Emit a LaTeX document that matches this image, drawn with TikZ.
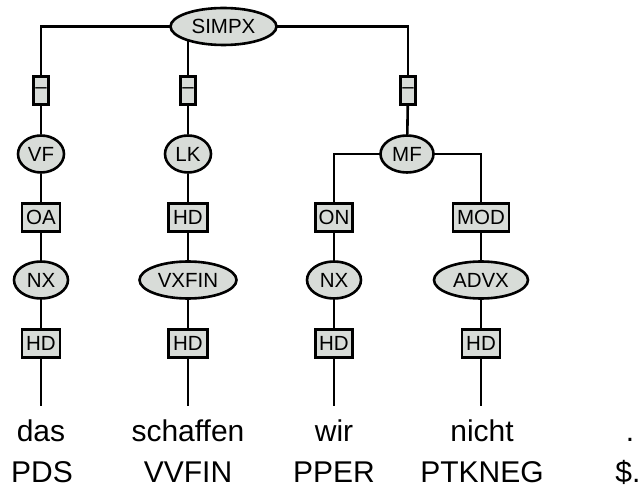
\documentclass[tikz,border=0pt]{standalone}
\usepackage{fontspec}
\setmainfont{Liberation Sans}
\usetikzlibrary{shapes.geometric,backgrounds}
\definecolor{nodegrey}{RGB}{216,220,216}
\begin{document}
\begin{tikzpicture}[x=1pt,y=-1pt,
  cat/.style={ellipse,draw,fill=nodegrey,line width=2.6pt,inner sep=0pt,minimum height=37pt,font=\fontsize{20.5}{22}\selectfont},
  lab/.style={rectangle,draw,fill=nodegrey,line width=2.6pt,inner sep=0pt,minimum height=28pt,font=\fontsize{20.5}{22}\selectfont},
  edge/.style={line width=2.6pt},
  word/.style={anchor=base,inner sep=0pt,font=\fontsize{30}{34}\selectfont}]
\useasboundingbox (0,0) rectangle (640,489);
% categories
\node[cat,minimum width=106pt] (simpx) at (223.5,26.5) {SIMPX};
\node[lab,minimum width=15pt] (d1) at (41,90.5) {–};
\node[lab,minimum width=15pt] (d2) at (188,90.5) {–};
\node[lab,minimum width=15pt] (d3) at (408,90.5) {–};
\node[cat,minimum width=46pt] (vf) at (41,154) {VF};
\node[cat,minimum width=46pt] (lk) at (188,154) {LK};
\node[cat,minimum width=53pt] (mf) at (407,154) {MF};
\node[lab,minimum width=38pt] (oa) at (41,217.5) {OA};
\node[lab,minimum width=39pt] (hd1) at (188,217.5) {HD};
\node[lab,minimum width=37pt] (on) at (334,217.5) {ON};
\node[lab,minimum width=56pt] (mod) at (481,217.5) {MOD};
\node[cat,minimum width=54pt] (nx1) at (41,280) {NX};
\node[cat,minimum width=97pt] (vxfin) at (188,280) {VXFIN};
\node[cat,minimum width=54pt] (nx2) at (334,280) {NX};
\node[cat,minimum width=94pt] (advx) at (481,280) {ADVX};
\node[lab,minimum width=38pt] (hd2) at (41,343.5) {HD};
\node[lab,minimum width=39pt] (hd3) at (188,343.5) {HD};
\node[lab,minimum width=37pt] (hd4) at (334,343.5) {HD};
\node[lab,minimum width=38pt] (hd5) at (481,343.5) {HD};
% leaves
\coordinate (e1) at (41,406);
\coordinate (e2) at (188,406);
\coordinate (e3) at (334,406);
\coordinate (e4) at (481,406);
\node[word] (w1) at (41,441.5) {das};
\node[word] (w2) at (188,441.5) {schaffen};
\node[word] (w3) at (334,441.5) {wir};
\node[word] (w4) at (482,441.5) {nicht};
\node[word] (w5) at (630,441.5) {.};
\node[word] (t1) at (42,482) {PDS};
\node[word] (t2) at (188,482) {VVFIN};
\node[word] (t3) at (334,482) {PPER};
\node[word] (t4) at (482,482) {PTKNEG};
\node[word] (t5) at (628,482) {\$.};
\begin{pgfonlayer}{background}
\draw[edge] (simpx.center) -| (d1.center);
\draw[edge] (simpx.center) -| (d3.center);
\draw[edge] (d2.center |- simpx.center) -- (d2.center);
\draw[edge] (d1) -- (vf) -- (oa) -- (nx1) -- (hd2) -- (e1);
\draw[edge] (d2) -- (lk) -- (hd1) -- (vxfin) -- (hd3) -- (e2);
\draw[edge] (d3) -- (mf);
\draw[edge] (mf.center) -| (on.center);
\draw[edge] (mf.center) -| (mod.center);
\draw[edge] (on) -- (nx2) -- (hd4) -- (e3);
\draw[edge] (mod) -- (advx) -- (hd5) -- (e4);
\end{pgfonlayer}
\end{tikzpicture}
\end{document}
